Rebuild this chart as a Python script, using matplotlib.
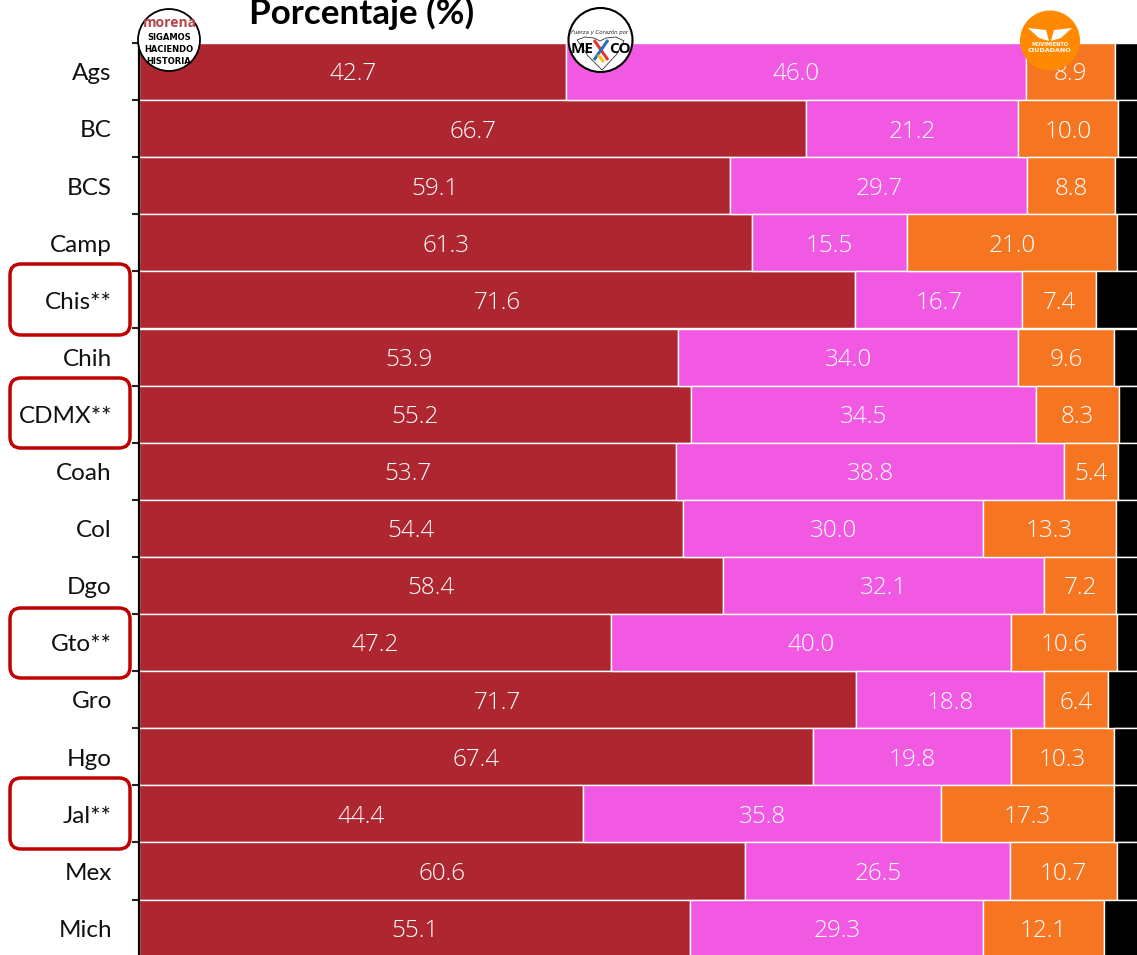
import matplotlib
matplotlib.use("Agg")
import matplotlib.pyplot as plt
from matplotlib.patches import Circle, FancyBboxPatch, Polygon
import numpy as np

states = ["Ags", "BC", "BCS", "Camp", "Chis**", "Chih", "CDMX**", "Coah",
          "Col", "Dgo", "Gto**", "Gro", "Hgo", "Jal**", "Mex", "Mich"]
morena = [42.7, 66.7, 59.1, 61.3, 71.6, 53.9, 55.2, 53.7, 54.4, 58.4, 47.2, 71.7, 67.4, 44.4, 60.6, 55.1]
fuerza = [46.0, 21.2, 29.7, 15.5, 16.7, 34.0, 34.5, 38.8, 30.0, 32.1, 40.0, 18.8, 19.8, 35.8, 26.5, 29.3]
mc = [8.9, 10.0, 8.8, 21.0, 7.4, 9.6, 8.3, 5.4, 13.3, 7.2, 10.6, 6.4, 10.3, 17.3, 10.7, 12.1]
otros = [2.4, 2.1, 2.4, 2.2, 4.3, 2.5, 2.0, 2.1, 2.3, 2.3, 2.2, 3.1, 2.5, 2.5, 2.2, 3.5]
series = [morena, fuerza, mc, otros]
colors = ["#AE2730", "#F159E3", "#F57521", "#000000"]
label_series = 3

W, H = 1137, 955
fig = plt.figure(figsize=(W / 100, H / 100), dpi=100)
ax = fig.add_axes([139 / W, 0, (W - 139) / W, (H - 43) / H])

y = np.arange(len(states)) + 0.5
left = np.zeros(len(states))
for k, (vals, col) in enumerate(zip(series, colors)):
    vals = np.array(vals)
    ax.barh(y, vals, left=left, height=1.0, color=col, edgecolor="white", linewidth=1.0)
    if k < label_series:
        for yi, l, v in zip(y, left, vals):
            ax.text(l + v / 2 + 0.03, yi + 0.05, f"{v:.1f}", ha="center", va="center", color="white",
                    fontsize=17.5, family="Open Sans", fontweight="light")
    left += vals

ax.set_xlim(0, 99.8)
ax.set_ylim(912 / 57.1, 0)
ax.set_yticks(np.arange(0, 16))
ax.set_yticklabels([])
ax.set_yticks(y + 0.005, minor=True)
ax.set_yticklabels(states, minor=True, fontsize=17.5, family="Lato", color="#111111")
ax.tick_params(axis="y", which="major", length=5, width=1.5, color="#222222")
ax.tick_params(axis="y", which="minor", length=0, pad=19.5)
ax.xaxis.set_visible(False)
for s in ["top", "right", "bottom"]:
    ax.spines[s].set_visible(False)
ax.spines["left"].set_linewidth(1.6)
ax.spines["left"].set_color("black")
ax.spines["left"].set_zorder(5)

# overlay in pixel coordinates for title, logos and highlight boxes
ov = fig.add_axes([0, 0, 1, 1], facecolor="none")
ov.set_xlim(0, W)
ov.set_ylim(H, 0)
ov.axis("off")

ov.text(362, 24, "Porcentaje (%)", ha="center", va="baseline", fontsize=25.2,
        fontweight="bold", family="Lato", color="black")

for (x0, y0, x1, y1) in [(10, 264, 130, 335), (10, 378, 130, 448), (10, 608, 130, 678), (10, 778, 130, 849)]:
    ov.add_patch(FancyBboxPatch((x0 + 11, y0 + 11), x1 - x0 - 22, y1 - y0 - 22,
                                boxstyle="round,pad=11,rounding_size=11",
                                fc="none", ec="#C00000", lw=2.5))

# Morena logo
ov.add_patch(Circle((169, 40), 31, fc="white", ec="black", lw=1.3, zorder=6))
ov.text(170, 23, "morena", ha="center", va="center", fontsize=10, fontweight="bold",
        family="Open Sans", color="#B8434A", zorder=7)
for yy, t in zip([38, 49.5, 61], ["SIGAMOS", "HACIENDO", "HISTORIA"]):
    ov.text(169, yy, t, ha="center", va="center", fontsize=6, fontweight="bold",
            family="DejaVu Sans", color="black", zorder=7)

# Fuerza y Corazon por Mexico logo
ov.add_patch(Circle((600.5, 40), 32, fc="white", ec="black", lw=1.5, zorder=6))
ov.text(600, 32, "Fuerza y Corazón por", ha="center", va="center", fontsize=3.9,
        family="DejaVu Sans", style="italic", color="#222222", zorder=7)
ov.add_patch(Polygon([[577, 40], [585, 37], [594, 38], [600, 41], [606, 38], [616, 37], [624, 41],
                      [616, 55], [602, 70], [588, 56]], fc="none", ec="#333333", lw=0.6, zorder=7))
ov.text(593, 49, "ME", ha="right", va="center", fontsize=11, fontweight="bold",
        family="Open Sans", color="black", zorder=8)
ov.text(609, 49, "CO", ha="left", va="center", fontsize=11, fontweight="bold",
        family="Open Sans", color="black", zorder=8)
ov.plot([594, 608], [40, 60], color="#E6352B", lw=2.2, zorder=8, solid_capstyle="butt")
ov.plot([608, 594], [40, 60], color="#2B6CC4", lw=2.2, zorder=8, solid_capstyle="butt")
ov.plot([598, 604], [55, 62], color="#F5C518", lw=2.2, zorder=9, solid_capstyle="butt")

# Movimiento Ciudadano logo
ov.add_patch(Circle((1050, 40.5), 30, fc="#FF8A00", ec="none", zorder=6))
ov.add_patch(Polygon([[1028, 28], [1046, 30], [1049, 41], [1039, 38]], fc="white", ec="none", zorder=7))
ov.add_patch(Polygon([[1072, 28], [1054, 30], [1051, 41], [1061, 38]], fc="white", ec="none", zorder=7))
ov.text(1050, 44.5, "MOVIMIENTO", ha="center", va="center", fontsize=3.6, fontweight="bold",
        family="DejaVu Sans", color="white", zorder=7)
ov.text(1050, 50, "CIUDADANO", ha="center", va="center", fontsize=4.6, fontweight="bold",
        family="DejaVu Sans", color="white", zorder=7)

fig.savefig("out.png", dpi=100)
